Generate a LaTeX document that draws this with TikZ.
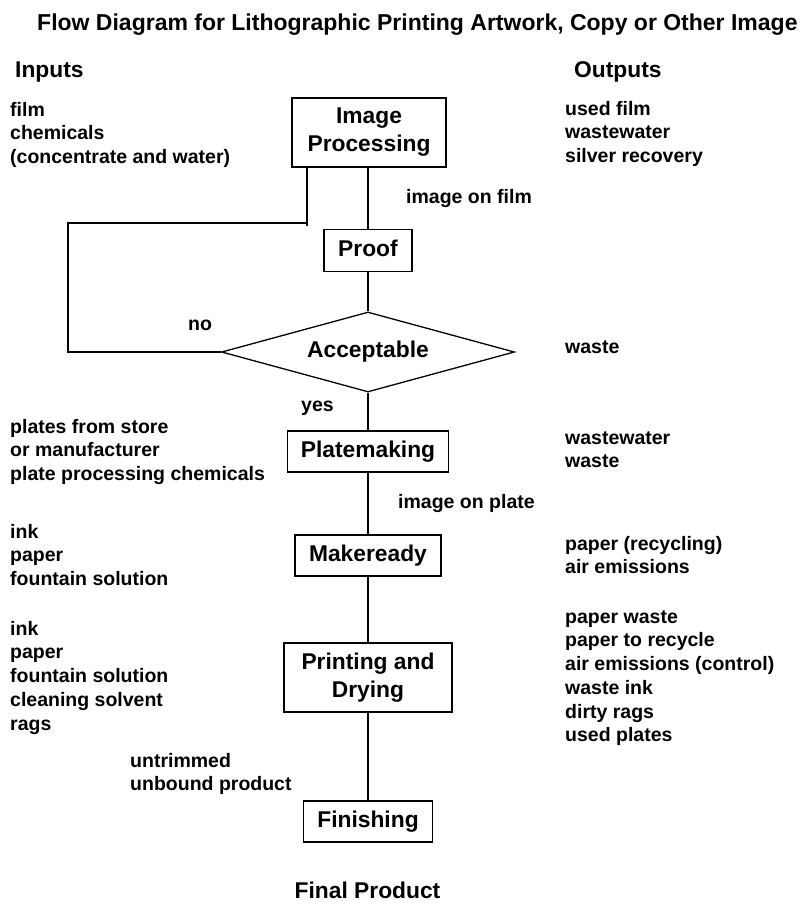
\documentclass[tikz,border=0pt]{standalone}
\usepackage{fontspec}
\setmainfont{Liberation Sans}
\usetikzlibrary{shapes.geometric}
\newcommand\sidefont{\fontsize{19.5}{23.75}\selectfont\bfseries}
\newcommand\boxfont{\fontsize{22.8}{28}\selectfont\bfseries}
\newcommand\titlefont{\fontsize{23}{28}\selectfont\bfseries}
\newcommand\fstrut{\rule{0pt}{18pt}}
\begin{document}
\begin{tikzpicture}[x=1pt,y=-1pt,
  procbox/.style={draw, line width=1.8pt, font=\boxfont, inner sep=0pt, align=center},
  onebox/.style={procbox, text height=16.5pt, text depth=4.8pt},
  sidetext/.style={font=\sidefont, align=left, anchor=north west, inner sep=0pt},
  headtext/.style={font=\boxfont, anchor=base west, inner sep=0pt},
  link/.style={line width=1.3pt},
]
\useasboundingbox (0,0) rectangle (803,906);

% headings
\node[headtext, font=\titlefont] (title) at (37,30) {Flow Diagram for Lithographic Printing Artwork, Copy or Other Image};
\node[headtext] (inputs) at (15,77) {Inputs};
\node[headtext] (outputs) at (574,77) {Outputs};
\node[font=\boxfont, anchor=base, inner sep=0pt] (final) at (367.5,898) {Final Product};

% process boxes
\node[procbox, minimum width=154pt, minimum height=69pt] (ip) at (369,132.5) {Image\\Processing};
\node[onebox, minimum width=88pt, minimum height=42pt] (proof) at (368,250.5) {Proof};
\node[diamond, draw, link, aspect=3.66, minimum width=293pt, minimum height=80pt,
      inner sep=0pt, font=\boxfont] (acc) at (368,352) {Acceptable};
\node[onebox, minimum width=161pt, minimum height=41pt] (plate) at (368,451.5) {Platemaking};
\node[onebox, minimum width=146pt, minimum height=41pt] (make) at (368,555.5) {Makeready};
\node[procbox, minimum width=168pt, minimum height=69pt] (print) at (368,677.5) {Printing and\\Drying};
\node[onebox, minimum width=129pt, minimum height=41pt] (fin) at (368,821.5) {Finishing};

% main connectors
\draw[link] (ip.south -| proof.north) -- (proof.north);
\draw[link] (proof.south) -- (acc.north);
\draw[link] (acc.south) -- (plate.north);
\draw[link] (plate.south) -- (make.north);
\draw[link] (make.south) -- (print.north);
\draw[link] (print.south) -- (fin.north);

% loop back
\coordinate (lt) at (307,226);
\coordinate (lc) at (307,223);
\coordinate (ll) at (68,223);
\draw[link] (ip.south -| lt) -- (lt);
\draw[link] (lc) -- (ll) |- (acc.west);

% connector labels
\node[sidetext] (lfilm) at (406,185) {\fstrut image on film};
\node[sidetext] (lplate) at (398,490) {\fstrut image on plate};
\node[sidetext] (lno) at (188,312) {\fstrut no};
\node[sidetext] (lyes) at (301,393) {\fstrut yes};

% inputs
\node[sidetext] (in1) at (10,98) {\fstrut film\\chemicals\\(concentrate and water)};
\node[sidetext] (in2) at (10,415) {\fstrut plates from store\\or manufacturer\\plate processing chemicals};
\node[sidetext] (in3) at (10,520) {\fstrut ink\\paper\\fountain solution};
\node[sidetext] (in4) at (10,617) {\fstrut ink\\paper\\fountain solution\\cleaning solvent\\rags};
\node[sidetext] (in5) at (130,749) {\fstrut untrimmed\\unbound product};

% outputs
\node[sidetext] (out1) at (565,97) {\fstrut used film\\wastewater\\silver recovery};
\node[sidetext] (out2) at (565,335) {\fstrut waste};
\node[sidetext] (out3) at (565,426) {\fstrut wastewater\\waste};
\node[sidetext] (out4) at (565,532) {\fstrut paper (recycling)\\air emissions};
\node[sidetext] (out5) at (565,605) {\fstrut paper waste\\paper to recycle\\air emissions (control)\\waste ink\\dirty rags\\used plates};
\end{tikzpicture}
\end{document}
